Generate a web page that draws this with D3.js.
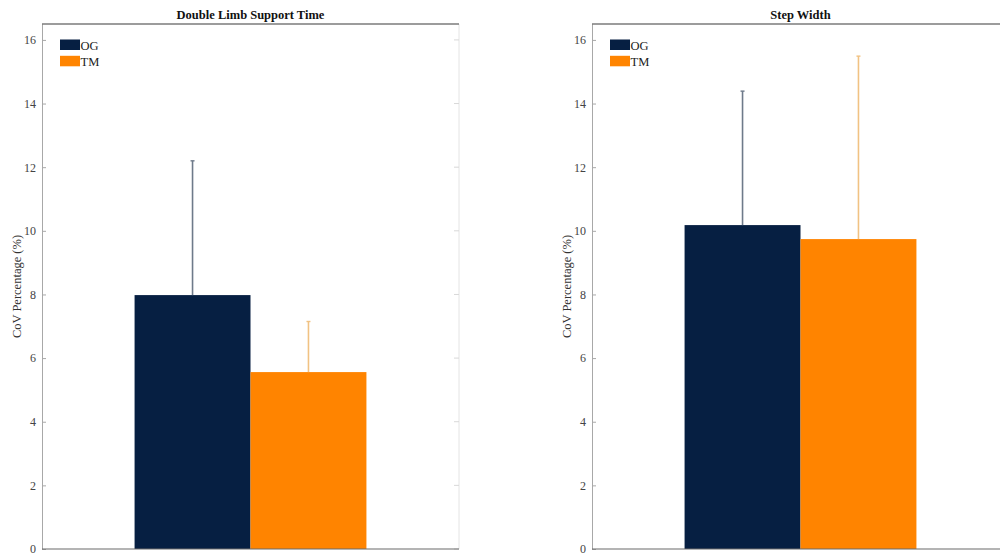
<!DOCTYPE html>
<html>
<head>
<meta charset="utf-8">
<script src="https://cdn.jsdelivr.net/npm/d3@7/dist/d3.min.js"></script>
<style>
  html, body { margin: 0; padding: 0; background: #fff; }
  svg { display: block; }
  svg text { font-family: 'Liberation Serif', serif; }
</style>
</head>
<body>
<svg id="chart" width="1000" height="558"></svg>
<script>
// Coefficient of variation per gait measure, overground (OG) vs treadmill (TM)
const measures = ["Double Limb Support Time", "Step Width"];
const series = ["OG", "TM"];
const ogMean = [7.98, 10.18];
const ogSD = [4.22, 4.21];
const tmMean = [5.56, 9.74];
const tmSD = [1.59, 5.75];
const yTicks = [0, 2, 4, 6, 8, 10, 12, 14, 16];
const yLabel = "CoV Percentage (%)";

const fill = { OG: "#061f42", TM: "#ff8400" };
const errColor = { OG: "#6e7a8a", TM: "#f1c283" };
const FONT = "'Liberation Serif', serif";

(function draw() {
  const svg = d3.select("#chart");
  const W = 1000, H = 558;

  // Panel frames (the second one runs past the right edge of the page)
  const panels = [
    { left: 42, right: 459 },
    { left: 592, right: 1009 }
  ];
  const plotTop = 24, plotBottom = 549;

  const y = d3.scaleLinear().domain([0, 16.5]).range([plotBottom, plotTop]);
  const barHalf = 0.278; // bar width in x-axis units

  svg.append("defs").append("clipPath").attr("id", "page")
    .append("rect").attr("x", 0).attr("y", 0).attr("width", W).attr("height", H);

  const root = svg.append("g").attr("clip-path", "url(#page)");

  measures.forEach((m, i) => {
    const p = panels[i];
    const x = d3.scaleLinear().domain([0.5, 1.5]).range([p.left, p.right]);
    const g = root.append("g");

    const values = [
      { s: "OG", mean: ogMean[i], sd: ogSD[i], x0: 1 - barHalf, x1: 1 },
      { s: "TM", mean: tmMean[i], sd: tmSD[i], x0: 1, x1: 1 + barHalf }
    ];

    // right frame line and its inward ticks (faint)
    g.append("line")
      .attr("x1", p.right).attr("x2", p.right).attr("y1", plotTop).attr("y2", plotBottom)
      .attr("stroke", "#e4e4e4").attr("stroke-width", 1);
    g.selectAll(".rtick").data(yTicks).join("line")
      .attr("x1", p.right - 5).attr("x2", p.right)
      .attr("y1", d => y(d)).attr("y2", d => y(d))
      .attr("stroke", "#d8d8d8");

    // bars
    g.selectAll(".bar").data(values).join("rect")
      .attr("x", d => x(d.x0))
      .attr("width", d => x(d.x1) - x(d.x0))
      .attr("y", d => y(d.mean))
      .attr("height", d => y(0) - y(d.mean))
      .attr("fill", d => fill[d.s]);

    // upper error bars
    values.forEach(d => {
      const cx = x((d.x0 + d.x1) / 2);
      g.append("line")
        .attr("x1", cx).attr("x2", cx)
        .attr("y1", y(d.mean)).attr("y2", y(d.mean + d.sd))
        .attr("stroke", errColor[d.s]).attr("stroke-width", 1.6);
      g.append("line")
        .attr("x1", cx - 2).attr("x2", cx + 2)
        .attr("y1", y(d.mean + d.sd)).attr("y2", y(d.mean + d.sd))
        .attr("stroke", errColor[d.s]).attr("stroke-width", 1.4);
    });

    // left y axis
    const yAxis = d3.axisLeft(y).tickValues(yTicks).tickSizeInner(-4).tickSizeOuter(0).tickPadding(6);
    const ya = g.append("g").attr("transform", `translate(${p.left},0)`).call(yAxis)
      .attr("font-family", FONT);
    ya.select(".domain").attr("stroke", "#a8a8a8");
    ya.selectAll(".tick line").attr("stroke", "#a8a8a8");
    ya.selectAll(".tick text")
      .attr("fill", "#444").attr("font-size", 12)
      .attr("font-family", FONT);

    // top and bottom frame lines
    g.append("line")
      .attr("x1", p.left).attr("x2", p.right).attr("y1", plotTop).attr("y2", plotTop)
      .attr("stroke", "#3a3a3a").attr("stroke-width", 1.2);
    g.append("line")
      .attr("x1", p.left).attr("x2", p.right).attr("y1", plotBottom).attr("y2", plotBottom)
      .attr("stroke", "#6a6a6a").attr("stroke-width", 1.2);

    // title
    g.append("text")
      .attr("x", (p.left + p.right) / 2).attr("y", 19)
      .attr("text-anchor", "middle")
      .attr("font-family", FONT)
      .attr("font-weight", "bold").attr("font-size", 12.5).attr("fill", "#111")
      .text(m);

    // y label
    g.append("text")
      .attr("transform", `translate(${p.left - 21},${(plotTop + plotBottom) / 2}) rotate(-90)`)
      .attr("text-anchor", "middle")
      .attr("font-family", FONT)
      .attr("font-size", 12.5).attr("fill", "#333")
      .text(yLabel);

    // legend
    const lg = g.append("g").attr("transform", `translate(${p.left + 18},39.5)`);
    series.forEach((s, k) => {
      lg.append("rect")
        .attr("x", 0).attr("y", k * 16.3).attr("width", 20).attr("height", 10.5)
        .attr("fill", fill[s]);
      lg.append("text")
        .attr("x", 20.5).attr("y", k * 16.3 + 10)
        .attr("font-family", FONT)
        .attr("font-size", 12.5).attr("fill", "#222")
        .text(s);
    });
  });
})();
</script>
</body>
</html>
